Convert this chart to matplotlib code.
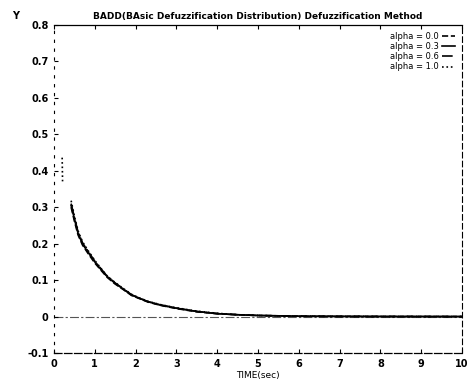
import numpy as np
import matplotlib
matplotlib.use("Agg")
import matplotlib.pyplot as plt

# time axis (sec) and the four responses
t = [0.20, 0.21, 0.30, 0.42, 0.50, 0.59, 0.70, 0.83, 1.00, 1.16, 1.30, 1.49, 1.70,
     1.90, 2.10, 2.30, 2.60, 3.00, 3.50, 4.00, 4.50, 5.00, 6.00, 7.00, 8.00, 9.00, 10.0]

nan = np.nan
y_a00 = [nan, nan, nan, 0.300, 0.262, 0.224, 0.196, 0.174, 0.147, 0.126, 0.108, 0.090, 0.074,
         0.058, 0.049, 0.040, 0.031, 0.022, 0.013, 0.008, 0.005, 0.003, 0.001, 0.0005, 0.0002, 0.0001, 0.0]
y_a03 = [nan, nan, nan, 0.305, 0.268, 0.228, 0.199, 0.177, 0.150, 0.128, 0.110, 0.092, 0.075,
         0.059, 0.050, 0.041, 0.032, 0.023, 0.014, 0.008, 0.005, 0.003, 0.001, 0.0005, 0.0002, 0.0001, 0.0]
y_a06 = [nan, nan, nan, 0.310, 0.272, 0.232, 0.202, 0.180, 0.152, 0.130, 0.111, 0.093, 0.076,
         0.060, 0.050, 0.041, 0.032, 0.023, 0.014, 0.008, 0.005, 0.003, 0.001, 0.0005, 0.0002, 0.0001, 0.0]
y_a10 = [0.436, 0.371, nan, 0.318, 0.276, 0.235, 0.205, 0.182, 0.154, 0.131, 0.112, 0.094, 0.077,
         0.061, 0.051, 0.042, 0.033, 0.024, 0.015, 0.009, 0.005, 0.003, 0.001, 0.0005, 0.0002, 0.0001, 0.0]

labels = ["alpha = 0.0", "alpha = 0.3", "alpha = 0.6", "alpha = 1.0"]
styles = ["--", "-", "-.", ":"]

x_ticks = list(range(0, 11))
y_ticks = [0.8, 0.7, 0.6, 0.5, 0.4, 0.3, 0.2, 0.1, 0.0, -0.1]
y_tick_labels = ["0.8", "0.7", "0.6", "0.5", "0.4", "0.3", "0.2", "0.1", "0", "-0.1"]

dpi = 100
fig = plt.figure(figsize=(472 / dpi, 383 / dpi), dpi=dpi)
ax = fig.add_axes([0.1144, 0.0783, 0.8645, 0.8564])

ax.axhline(0, color="#555555", lw=0.8, linestyle=(0, (8, 2, 2, 2)), zorder=1)

for ys, lab, ls in zip([y_a00, y_a03, y_a06, y_a10], labels, styles):
    ax.plot(t, ys, color="black", lw=1.2, linestyle=ls, label=lab)

ax.set_xlim(0, 10)
ax.set_ylim(-0.1, 0.8)
ax.set_xticks(x_ticks)
ax.set_yticks(y_ticks)
ax.set_yticklabels(y_tick_labels)
ax.tick_params(direction="in", length=3, width=0.8, labelsize=7, top=True, pad=4)
for lab in ax.get_xticklabels() + ax.get_yticklabels():
    lab.set_fontweight("bold")

ax.spines["top"].set_linewidth(0.9)
ax.spines["bottom"].set_linewidth(0.9)
ax.spines["bottom"].set_linestyle((0, (6, 2)))
ax.spines["right"].set_linewidth(0.8)
ax.spines["right"].set_linestyle((0, (5, 3)))
ax.spines["left"].set_linewidth(0.8)
ax.spines["left"].set_linestyle((0, (2, 6)))

ax.set_title("BADD(BAsic Defuzzification Distribution) Defuzzification Method",
             fontsize=6.5, fontweight="bold", pad=4)
ax.set_xlabel("TIME(sec)", fontsize=6.5, labelpad=2)
fig.text(12 / 472, 1 - 16 / 383, "Y", fontsize=7, fontweight="bold", ha="left", va="center")

leg = ax.legend(loc="upper right", frameon=False, fontsize=6, markerfirst=False,
                handlelength=1.6, handletextpad=0.4, labelspacing=0.15,
                borderaxespad=0.4)

fig.savefig("out.png", dpi=dpi)
